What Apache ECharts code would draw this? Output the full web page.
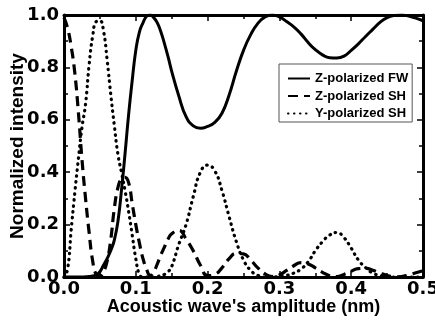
<!DOCTYPE html>
<html>
<head>
<meta charset="utf-8">
<script src="https://cdn.jsdelivr.net/npm/echarts@6/dist/echarts.min.js"></script>
<style>
  html, body { margin: 0; padding: 0; background: #fff; }
  #chart { width: 435px; height: 324px; }
</style>
</head>
<body>
<div id="chart"></div>
<script>
// amplitude (nm) - finer steps where the curves change quickly
const amplitude = [
    0, 0.005, 0.01, 0.015, 0.02, 0.025, 0.03, 0.035, 0.04, 0.045,
    0.05, 0.055, 0.06, 0.065, 0.07, 0.075, 0.08, 0.085, 0.09, 0.095,
    0.1, 0.105, 0.11, 0.115, 0.12, 0.125, 0.13, 0.135, 0.14, 0.145, 0.15,
    0.16, 0.17, 0.18, 0.19, 0.2,
    0.21, 0.22, 0.23, 0.24, 0.25, 0.26, 0.27, 0.28, 0.29, 0.3,
    0.31, 0.32, 0.33, 0.34, 0.35, 0.36, 0.37, 0.38, 0.39, 0.4,
    0.41, 0.42, 0.43, 0.44, 0.45, 0.46, 0.47, 0.48, 0.49, 0.5
];
const zFW = [
    0, 0, 0, 0, 0, 0, 0.001, 0.002, 0.004, 0.008,
    0.02, 0.045, 0.07, 0.1, 0.14, 0.21, 0.33, 0.47, 0.62, 0.75,
    0.865, 0.935, 0.97, 0.995, 1.0, 0.99, 0.97, 0.935, 0.89, 0.84, 0.785,
    0.69, 0.612, 0.577, 0.568, 0.575,
    0.59, 0.625, 0.695, 0.785, 0.865, 0.925, 0.968, 0.993, 1.0, 0.993,
    0.975, 0.955, 0.928, 0.895, 0.868, 0.848, 0.837, 0.836, 0.843, 0.865,
    0.89, 0.918, 0.945, 0.972, 0.99, 0.998, 1.0, 0.996, 0.988, 0.978
];
const zSH = [
    0.99, 0.95, 0.88, 0.78, 0.63, 0.45, 0.3, 0.17, 0.06, 0.01,
    0.005, 0.02, 0.06, 0.14, 0.26, 0.34, 0.375, 0.38, 0.36, 0.28,
    0.2, 0.13, 0.07, 0.03, 0.005, 0.02, 0.05, 0.085, 0.115, 0.145, 0.165,
    0.178, 0.145, 0.1, 0.045, 0.005,
    0.01, 0.035, 0.07, 0.09, 0.088, 0.065, 0.035, 0.012, 0.002, 0.008,
    0.025, 0.043, 0.055, 0.05, 0.035, 0.018, 0.005, 0.002, 0.01, 0.022,
    0.032, 0.033, 0.026, 0.015, 0.006, 0.001, 0.002, 0.008, 0.016, 0.024
];
const ySH = [
    0, 0.03, 0.18, 0.32, 0.45, 0.57, 0.66, 0.81, 0.92, 0.975,
    0.978, 0.94, 0.83, 0.7, 0.58, 0.47, 0.4, 0.33, 0.25, 0.16,
    0.07, 0.01, 0, 0, 0, 0, 0.002, 0.005, 0.01, 0.02, 0.04,
    0.125, 0.2, 0.307, 0.4, 0.427,
    0.405, 0.33, 0.23, 0.135, 0.065, 0.025, 0.006, 0, 0, 0.002,
    0.006, 0.015, 0.03, 0.058, 0.1, 0.135, 0.16, 0.17, 0.15, 0.11,
    0.065, 0.036, 0.015, 0.006, 0.002, 0, 0, 0, 0, 0
];
const seriesNames = ['Z-polarized FW', 'Z-polarized SH', 'Y-polarized SH'];
const xTicks = [0, 0.1, 0.2, 0.3, 0.4, 0.5];
const yTicks = [0, 0.2, 0.4, 0.6, 0.8, 1.0];

const pair = (ys) => amplitude.map((x, i) => [x, ys[i]]);

const tickFont = { fontFamily: 'DejaVu Sans', fontWeight: 'bold', fontSize: 18, color: '#000' };
const frame = { show: true, onZero: false, lineStyle: { color: '#000', width: 3 } };
const inTick = { show: true, inside: true, length: 6, lineStyle: { color: '#000', width: 1.5 } };
const inMinor = { show: true, splitNumber: 2, length: 4, lineStyle: { color: '#000', width: 1.5 } };

const chart = echarts.init(document.getElementById('chart'));
chart.setOption({
    animation: false,
    backgroundColor: '#fff',
    grid: { left: 64, right: 12, top: 15, bottom: 47, outerBoundsMode: 'none', containLabel: false },
    legend: {
        data: seriesNames,
        orient: 'vertical',
        left: 279,
        top: 64,
        itemWidth: 22,
        itemHeight: 12,
        itemGap: 4.5,
        padding: [8, 4, 2, 8],
        borderColor: '#555',
        borderWidth: 1,
        backgroundColor: '#fff',
        itemStyle: { opacity: 0 },
        textStyle: { fontFamily: 'Liberation Sans', fontWeight: 'bold', fontSize: 13, color: '#000' }
    },
    xAxis: [
        {
            type: 'value', min: 0, max: 0.5, interval: 0.1,
            name: "Acoustic wave's amplitude (nm)",
            nameLocation: 'middle', nameGap: 21, nameMoveOverlap: false,
            nameTextStyle: { fontFamily: 'Liberation Sans', fontWeight: 'bold', fontSize: 18, color: '#000' },
            axisLine: frame, axisTick: inTick, minorTick: inMinor,
            axisLabel: Object.assign({ margin: 3, formatter: (v) => xTicks.includes(+v.toFixed(2)) ? v.toFixed(1) : '' }, tickFont),
            splitLine: { show: false }
        },
        {
            type: 'value', position: 'top', min: 0, max: 0.5, interval: 0.1,
            axisLine: frame, axisTick: inTick, minorTick: inMinor,
            axisLabel: { show: false }, splitLine: { show: false }
        }
    ],
    yAxis: [
        {
            type: 'value', min: 0, max: 1, interval: 0.2,
            name: 'Normalized intensity',
            nameLocation: 'middle', nameGap: 37, nameMoveOverlap: false,
            nameTextStyle: { fontFamily: 'Liberation Sans', fontWeight: 'bold', fontSize: 19, color: '#000' },
            axisLine: frame, axisTick: inTick, minorTick: inMinor,
            axisLabel: Object.assign({ margin: 5, formatter: (v) => yTicks.includes(+v.toFixed(2)) ? v.toFixed(1) : '' }, tickFont),
            splitLine: { show: false }
        },
        {
            type: 'value', position: 'right', min: 0, max: 1, interval: 0.2,
            axisLine: frame, axisTick: inTick, minorTick: inMinor,
            axisLabel: { show: false }, splitLine: { show: false }
        }
    ],
    series: [
        {
            name: seriesNames[0], type: 'line', data: pair(zFW),
            symbol: 'none', smooth: 0.5,
            lineStyle: { color: '#000', width: 3 },
            itemStyle: { color: '#000' }
        },
        {
            name: seriesNames[1], type: 'line', data: pair(zSH),
            symbol: 'none', smooth: 0.5,
            lineStyle: { color: '#000', width: 3.2, type: [10, 6] },
            itemStyle: { color: '#000' }
        },
        {
            name: seriesNames[2], type: 'line', data: pair(ySH),
            symbol: 'none', smooth: 0.5,
            lineStyle: { color: '#000', width: 3.2, type: [0.5, 5.5], cap: 'round' },
            itemStyle: { color: '#000' }
        }
    ]
});
</script>
</body>
</html>
